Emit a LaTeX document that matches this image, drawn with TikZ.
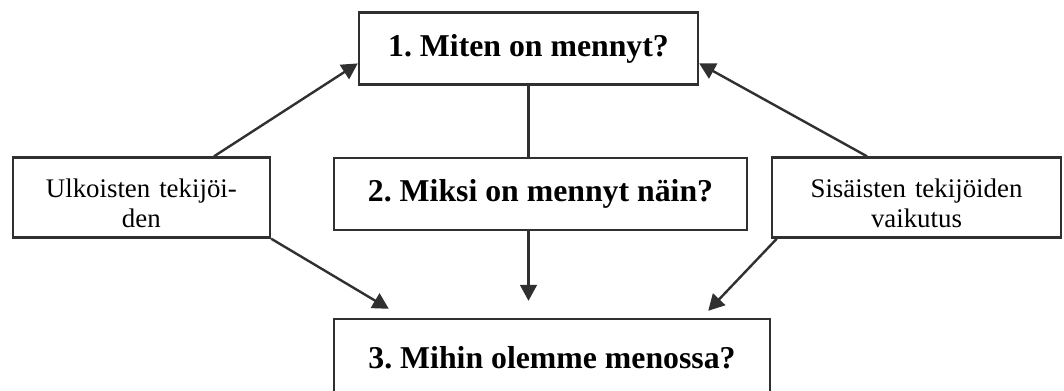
\documentclass[tikz,border=0pt]{standalone}
\usepackage{fontspec}
\setmainfont{Liberation Serif}
\usetikzlibrary{positioning, arrows.meta, calc}
\definecolor{framegray}{HTML}{303030}
\frenchspacing

\begin{document}
\begin{tikzpicture}[
    every node/.style={font=\fontsize{19.1}{21}\selectfont},
    question/.style={draw=framegray, line width=0.06cm, inner sep=0pt, font=\fontsize{22.6}{26}\selectfont\bfseries},
    factor/.style={draw=framegray, line width=0.06cm, inner xsep=0pt, align=center, text height=0.65cm, text depth=0.65cm, minimum height=2.0cm},
    link/.style={draw=framegray, line width=0.06cm},
    arrow/.style={link, -{Triangle[length=0.4cm, width=0.42cm]}},
  ]
  \useasboundingbox (0,0) rectangle (26.6,-9.75);
  \node[question, minimum width=8.475cm, minimum height=1.8cm] (miten) at (13.2125,-1.2125) {1. Miten on mennyt?};
  \node[question, minimum width=10.325cm, minimum height=1.8cm] (miksi) at (13.5125,-4.85) {2. Miksi on mennyt näin?};
  \node[question, minimum width=10.9cm, minimum height=1.95cm] (mihin) at (13.8,-8.95) {3. Mihin olemme menossa?};
  \node[factor, text width=6.43cm] (ulkoiset) at (3.534,-4.9375) {Ulkoisten tekijöi-\\den};
  \node[factor, text width=7.225cm] (sisaiset) at (22.9125,-4.9375) {Sisäisten tekijöiden\\vaikutus};

  \draw[link] (miten.south) -- (miten.south |- miksi.north);
  \draw[arrow] (miten.south |- miksi.south) -- ($(miten.south |- mihin.north)+(0,0.425)$);
  \draw[arrow] ($(ulkoiset.north west)!0.78!(ulkoiset.north east)$) -- ($(miten.north west)!0.7!(miten.south west)$);
  \draw[arrow] (ulkoiset.south east) -- ($(mihin.north west)+(1.4,0.225)$);
  \draw[arrow] ($(sisaiset.north west)!0.33!(sisaiset.north east)$) -- ($(miten.north east)!0.7!(miten.south east)$);
  \draw[arrow] ($(sisaiset.south west)+(0.15,0)$) -- ($(mihin.north east)+(-1.575,0.175)$);
\end{tikzpicture}
\end{document}
